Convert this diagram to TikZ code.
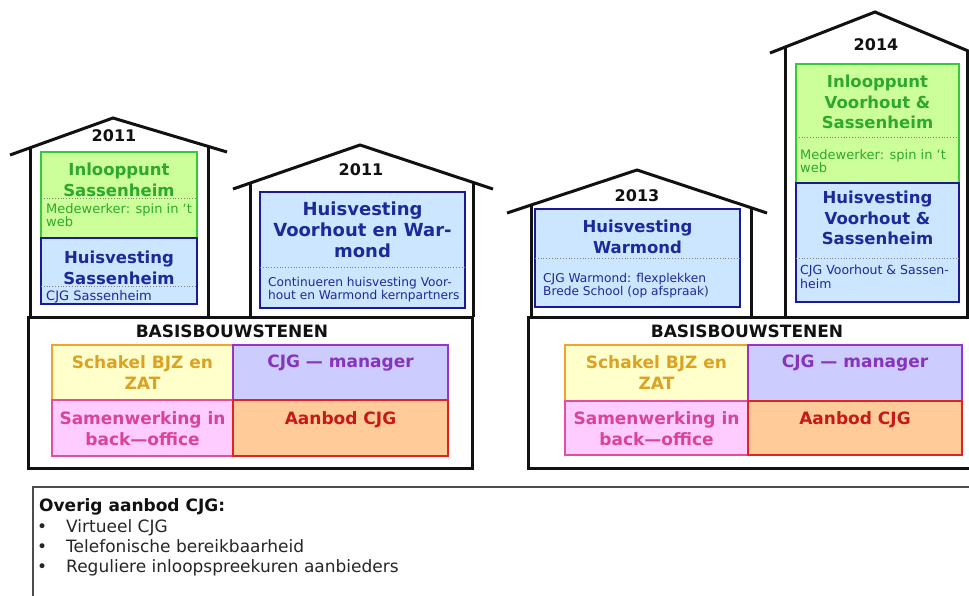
\documentclass[tikz,border=0pt]{standalone}
\usepackage{fontspec}
\setmainfont{DejaVu Sans}
\definecolor{gfill}{HTML}{CCFF99}
\definecolor{gline}{HTML}{33CC33}
\definecolor{gtext}{HTML}{2EA82E}
\definecolor{bfill}{HTML}{CCE6FF}
\definecolor{bline}{HTML}{1A1A99}
\definecolor{btext}{HTML}{1A2A99}
\definecolor{yfill}{HTML}{FFFFCC}
\definecolor{yline}{HTML}{F5A033}
\definecolor{ytext}{HTML}{DCA224}
\definecolor{pfill}{HTML}{CCCCFF}
\definecolor{pline}{HTML}{9933CC}
\definecolor{ptext}{HTML}{8833BB}
\definecolor{kfill}{HTML}{FFCCFF}
\definecolor{kline}{HTML}{E0509F}
\definecolor{ktext}{HTML}{D9449A}
\definecolor{ofill}{HTML}{FFCC99}
\definecolor{oline}{HTML}{E52222}
\definecolor{otext}{HTML}{C41A1A}
\definecolor{ink}{HTML}{111111}
\tikzset{
  wall/.style={line width=3pt, draw=ink},
  cell/.style={inner sep=0pt, outer sep=0pt, anchor=north west, line width=2.3pt},
  gbox/.style={cell, draw=gline, fill=gfill},
  bbox/.style={cell, draw=bline, fill=bfill},
  ybox/.style={cell, draw=yline, fill=yfill},
  pbox/.style={cell, draw=pline, fill=pfill},
  kbox/.style={cell, draw=kline, fill=kfill},
  obox/.style={cell, draw=oline, fill=ofill},
  basebox/.style={inner sep=0pt, outer sep=0pt, anchor=north west, draw=ink, line width=3pt, fill=white},
  head/.style={font=\fontsize{16.5}{20.5}\selectfont\bfseries, align=center, anchor=north, inner sep=0pt},
  bighead/.style={font=\fontsize{18}{21}\selectfont\bfseries, align=center, anchor=north, inner sep=0pt},
  cellhead/.style={font=\fontsize{17}{21}\selectfont\bfseries, align=center, anchor=north, inner sep=0pt},
  sub/.style={font=\fontsize{13}{13}\selectfont, align=left, anchor=north west, inner sep=0pt},
  subb/.style={font=\fontsize{12.2}{13.5}\selectfont, align=left, anchor=north west, inner sep=0pt},
  year/.style={font=\fontsize{16}{19}\selectfont\bfseries, text=ink, inner sep=0pt},
  sep/.style={dotted, draw=gray, line width=0.8pt},
}
\begin{document}
\begin{tikzpicture}[x=1pt,y=-1pt]
\useasboundingbox (0,0) rectangle (969,595);
\clip (0,0) rectangle (969,595);
\fill[white] (0,0) rectangle (969,595);

% ---------- base blocks ----------
\node[basebox, minimum width=444pt, minimum height=151pt] (baseL) at (28,317) {};
\node[basebox, minimum width=460pt, minimum height=151pt] (baseR) at (528,317) {};

% ---------- house 1 (2011, Sassenheim) ----------
\draw[wall] (10,155) -- (113,118) -- (227,152);
\draw[wall] (30,148) -- (30,317);
\draw[wall] (208,146) -- (208,317);
\node[year] (y1) at (114,136) {2011};
\node[gbox, minimum width=156pt, minimum height=86pt] (g1) at (41,152) {};
\node[bbox, minimum width=156pt, minimum height=66pt] (b1) at (41,238) {};
\node[head, text=gtext] (g1h) at (119,163) {Inlooppunt\\Sassenheim};
\draw[sep] (41,198) -- (197,198);
\node[sub, text=gtext] (g1s) at (46,203) {Medewerker: spin in `t\\web};
\node[head, text=btext] (b1h) at (119,251) {Huisvesting\\Sassenheim};
\draw[sep] (41,286) -- (197,286);
\node[sub, text=btext] (b1s) at (46,290) {CJG Sassenheim};

% ---------- house 2 (2011, Voorhout en Warmond) ----------
\draw[wall] (233,189) -- (360,145) -- (493,189);
\draw[wall] (250,183) -- (250,317);
\draw[wall] (473,182) -- (473,317);
\node[year] (y2) at (361,170) {2011};
\node[bbox, minimum width=205pt, minimum height=116pt] (b2) at (260,192) {};
\node[bighead, text=btext] (b2h) at (362.5,202) {Huisvesting\\Voorhout en War-\\mond};
\draw[sep] (260,267) -- (465,267);
\node[subb, text=btext] (b2s) at (268,277) {Continueren huisvesting Voor-\\hout en Warmond kernpartners};

% ---------- house 3 (2013, Warmond) ----------
\draw[wall] (507,213) -- (637,170) -- (767,213);
\draw[wall] (531,205) -- (531,317);
\draw[wall] (751,207) -- (751,317);
\node[year] (y3) at (637,196) {2013};
\node[bbox, minimum width=205pt, minimum height=98pt] (b3) at (535,209) {};
\node[head, text=btext] (b3h) at (637.5,220) {Huisvesting\\Warmond};
\draw[sep] (535,258) -- (740,258);
\node[subb, text=btext] (b3s) at (543,273) {CJG Warmond: flexplekken\\Brede School (op afspraak)};

% ---------- house 4 (2014, Voorhout & Sassenheim) ----------
\draw[wall] (770,53) -- (875,12) -- (985,58);
\draw[wall] (785,47) -- (785,317);
\draw[wall] (967,50) -- (967,317);
\node[year] (y4) at (876,45) {2014};
\node[gbox, minimum width=163pt, minimum height=119pt] (g4) at (796,64) {};
\node[bbox, minimum width=163pt, minimum height=119pt] (b4) at (796,183) {};
\node[head, text=gtext] (g4h) at (877.5,75) {Inlooppunt\\Voorhout \&\\Sassenheim};
\draw[sep] (796,137) -- (959,137);
\node[sub, text=gtext] (g4s) at (800,149) {Medewerker: spin in `t\\web};
\node[head, text=btext] (b4h) at (877.5,191) {Huisvesting\\Voorhout \&\\Sassenheim};
\draw[sep] (796,258) -- (959,258);
\node[sub, font=\fontsize{12.5}{13.5}\selectfont, text=btext] (b4s) at (800,265) {CJG Voorhout \& Sassen-\\heim};

% ---------- base left content ----------
\node[cellhead, text=ink] (bsL) at (232,325) {BASISBOUWSTENEN};
\node[ybox, minimum width=181pt, minimum height=55pt] (yL) at (52,345) {};
\node[pbox, minimum width=215pt, minimum height=55pt] (pL) at (233,345) {};
\node[kbox, minimum width=181pt, minimum height=56pt] (kL) at (52,400) {};
\node[obox, minimum width=215pt, minimum height=56pt] (oL) at (233,400) {};
\node[cellhead, text=ytext] (yLt) at (142.5,355) {Schakel BJZ en\\ZAT};
\node[cellhead, text=ptext] (pLt) at (340.5,355) {CJG — manager};
\node[cellhead, text=ktext] (kLt) at (142.5,411) {Samenwerking in\\back—office};
\node[cellhead, text=otext] (oLt) at (340.5,411) {Aanbod CJG};

% ---------- base right content ----------
\node[cellhead, text=ink] (bsR) at (747,325) {BASISBOUWSTENEN};
\node[ybox, minimum width=183pt, minimum height=56pt] (yR) at (565,345) {};
\node[pbox, minimum width=214pt, minimum height=56pt] (pR) at (748,345) {};
\node[kbox, minimum width=183pt, minimum height=54pt] (kR) at (565,401) {};
\node[obox, minimum width=214pt, minimum height=54pt] (oR) at (748,401) {};
\node[cellhead, text=ytext] (yRt) at (656.5,355) {Schakel BJZ en\\ZAT};
\node[cellhead, text=ptext] (pRt) at (855,355) {CJG — manager};
\node[cellhead, text=ktext] (kRt) at (656.5,411) {Samenwerking in\\back—office};
\node[cellhead, text=otext] (oRt) at (855,411) {Aanbod CJG};

% ---------- bottom box ----------
\node[inner sep=0pt, outer sep=0pt, anchor=north west, draw=black!70, line width=1.5pt,
      minimum width=960pt, minimum height=130pt] (extra) at (33,487) {};
\node[anchor=north west, inner sep=0pt, font=\fontsize{17}{20}\selectfont\bfseries, text=ink] (extraT) at (39,498) {Overig aanbod CJG:};
\node[anchor=north west, inner sep=0pt, align=left, font=\fontsize{17}{20}\selectfont, text=black!85] (extraL) at (37,519)
  {\makebox[29pt][l]{•}Virtueel CJG\\
   \makebox[29pt][l]{•}Telefonische bereikbaarheid\\
   \makebox[29pt][l]{•}Reguliere inloopspreekuren aanbieders};
\end{tikzpicture}
\end{document}
